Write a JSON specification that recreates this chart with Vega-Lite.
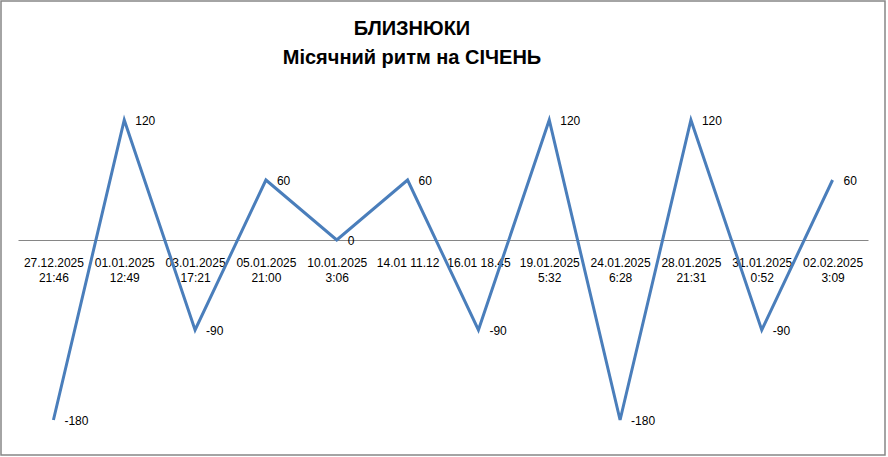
{
  "$schema": "https://vega.github.io/schema/vega-lite/v6.json",
  "width": 884,
  "height": 454,
  "autosize": {"type": "none"},
  "padding": {"left": 1, "top": 1, "right": 3, "bottom": 2},
  "background": "#ffffff",
  "title": {
    "text": ["БЛИЗНЮКИ", "Місячний ритм на СІЧЕНЬ"],
    "font": "Liberation Sans",
    "fontSize": 20,
    "fontWeight": "bold",
    "color": "#000000",
    "lineHeight": 29,
    "anchor": "middle",
    "baseline": "top",
    "offset": 0,
    "dy": 67,
    "dx": -31
  },
  "config": {"view": {"stroke": "#868686", "strokeWidth": 1.5}},
  "data": {
    "values": [
      {"date": "27.12.2025|21:46", "value": -180},
      {"date": "01.01.2025|12:49", "value": 120},
      {"date": "03.01.2025|17:21", "value": -90},
      {"date": "05.01.2025|21:00", "value": 60},
      {"date": "10.01.2025|3:06", "value": 0},
      {"date": "14.01 11.12", "value": 60},
      {"date": "16.01 18.45", "value": -90},
      {"date": "19.01.2025|5:32", "value": 120},
      {"date": "24.01.2025|6:28", "value": -180},
      {"date": "28.01.2025|21:31", "value": 120},
      {"date": "31.01.2025|0:52", "value": -90},
      {"date": "02.02.2025|3:09", "value": 60}
    ]
  },
  "encoding": {
    "x": {
      "field": "date",
      "type": "ordinal",
      "sort": null,
      "scale": {"type": "point", "range": [17, 867], "padding": 0.5},
      "axis": {
        "title": null,
        "offset": -215,
        "domainColor": "#868686",
        "domainWidth": 1,
        "ticks": false,
        "grid": false,
        "labelAngle": 0,
        "labelFont": "Liberation Sans",
        "labelFontSize": 12,
        "labelColor": "#000000",
        "labelPadding": 17,
        "labelLineHeight": 15.5,
        "labelOverlap": false,
        "labelLimit": 0,
        "labelExpr": "split(datum.label, '|')"
      }
    },
    "y": {
      "field": "value",
      "type": "quantitative",
      "scale": {"domain": [-215, 239], "nice": false, "zero": false},
      "axis": null
    }
  },
  "layer": [
    {"mark": {"type": "line", "color": "#4a7ebb", "strokeWidth": 3}},
    {
      "mark": {
        "type": "text",
        "align": "left",
        "baseline": "middle",
        "dx": 11,
        "dy": 1,
        "font": "Liberation Sans",
        "fontSize": 12,
        "color": "#000000"
      },
      "encoding": {"text": {"field": "value", "type": "nominal"}}
    }
  ]
}
